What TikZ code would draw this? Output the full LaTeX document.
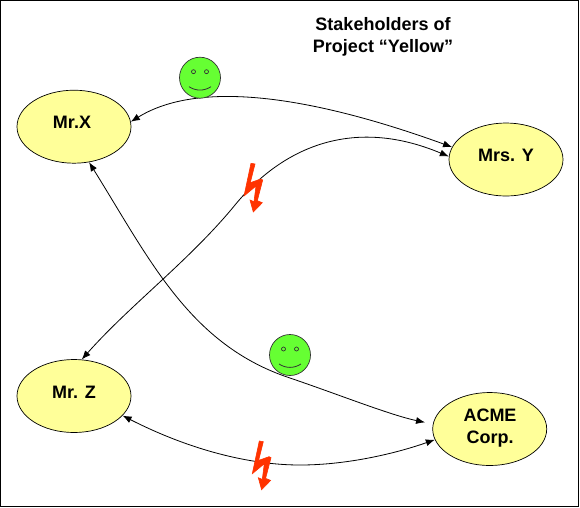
\documentclass[tikz,border=0pt]{standalone}
\usepackage{fontspec}
\setmainfont{Liberation Sans}
\usetikzlibrary{arrows.meta,shapes.geometric}
\definecolor{stakeyellow}{HTML}{FFFF99}
\definecolor{smilegreen}{HTML}{66FF33}
\definecolor{boltred}{HTML}{FF3300}
\tikzset{
  x=1pt,y=-1pt,
  stake/.style={draw=black,line width=0.7pt,fill=stakeyellow,ellipse,inner sep=0pt,minimum width=114pt,minimum height=73pt},
  caption/.style={font=\fontsize{18}{22.5}\selectfont\bfseries,align=center},
  link/.style={draw=black,line width=0.8pt,{Latex[length=9pt,width=7pt]}-{Latex[length=9pt,width=7pt]}},
  pics/smiley/.style={code={
    \fill[smilegreen] (0,0) circle[radius=20.5];
    \draw[line width=0.7pt,black!80] (0,0) circle[radius=20.5];
    \draw[line width=0.7pt,black!80] (-6.5,-6) circle[radius=2] (6.5,-6) circle[radius=2];
    \draw[line width=0.8pt,black!80] (-11,9) .. controls (-4,13.5) and (4,13.5) .. (11,9);
  }},
  pics/bolt/.style={code={
    \filldraw[boltred,line width=0.6pt,line join=miter] (251,163.3) -- (255,164) -- (250.3,182.7) -- (260.7,179) -- (262.7,180) -- (257.3,200.7) -- (262.3,202.7) -- (253.3,212) -- (250,200) -- (254,201.7) -- (256,186) -- (244,196) -- cycle;
  }}
}
\begin{document}
\begin{tikzpicture}
\useasboundingbox (0,0) rectangle (580,507);
\fill[white] (0,0) rectangle (580,507);
\draw[line width=1.2pt] (0.5,0.5) rectangle (578.5,506.2);
\node[stake] (x) at (74,126.7) {};
\node[stake] (y) at (506,159.5) {};
\node[stake] (z) at (74,396) {};
\node[stake] (a) at (489.7,429) {};
\node[caption] (xt) at (72,122) {Mr.X};
\node[caption] (yt) at (506,155) {Mrs. Y};
\node[caption] (zt) at (74,392) {Mr. Z};
\node[caption] (at) at (490,428) {ACME\\Corp.};
\node[caption] (title) at (383,37) {Stakeholders of\\Project “Yellow”};
\draw[link] (x.5) .. controls (195,82) and (300,92) .. (y.167);
\draw[link] (y.177) .. controls (350,115) and (280,150) .. (235,205) .. controls (190,260) and (130,305) .. (z.78);
\draw[link,shorten >=8pt] (x.-67) .. controls (150,260) and (190,345) .. (290,378) .. controls (340,395) and (390,415) .. (a.175);
\draw[link] (z.-22) .. controls (190,450) and (250,465) .. (300,465) .. controls (350,465) and (400,452) .. (a.191);
\pic at (200,77.7) {smiley};
\pic at (290,355) {smiley};
\pic at (0,0) {bolt};
\pic at (8.3,277.7) {bolt};
\end{tikzpicture}
\end{document}
